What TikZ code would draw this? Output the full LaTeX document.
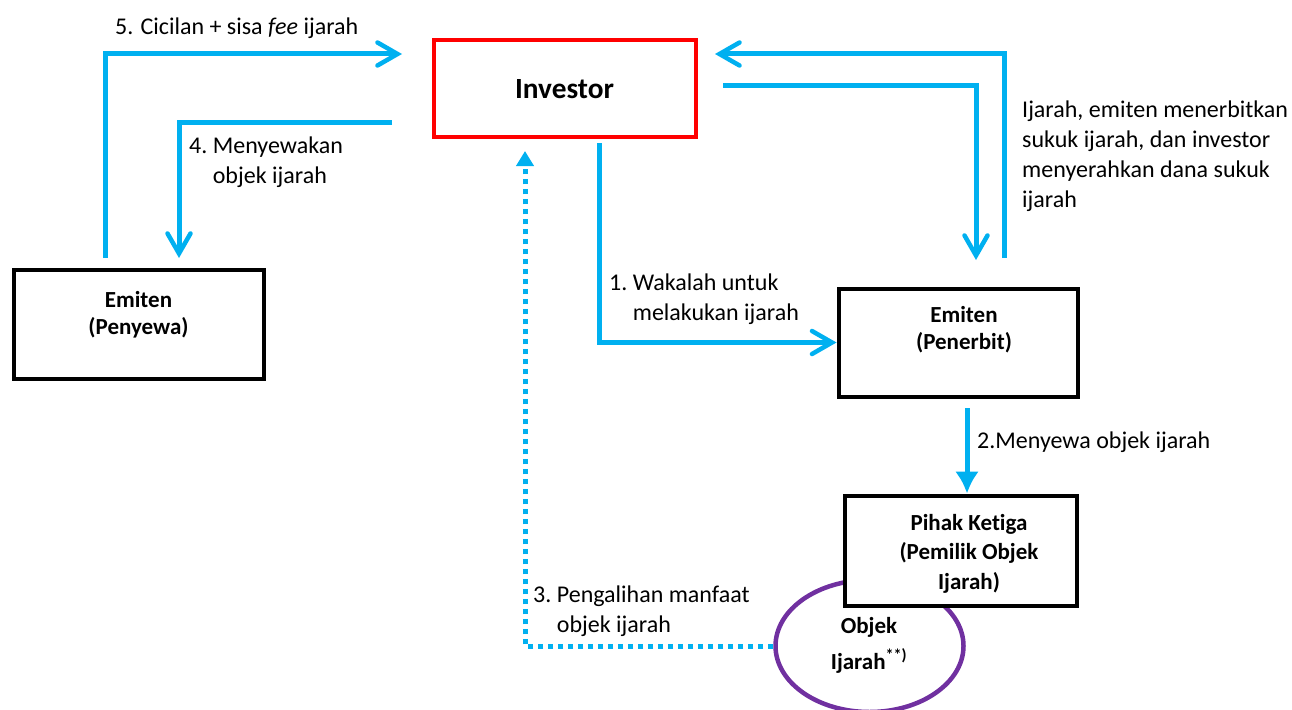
\documentclass[tikz,border=0pt]{standalone}
\usepackage{fontspec}
\setmainfont{Carlito}[Ligatures={NoCommon}]
\usetikzlibrary{arrows.meta,shapes.geometric}
\definecolor{flow}{HTML}{00B0F0}
\definecolor{invred}{HTML}{FF0000}
\definecolor{objpurple}{HTML}{7030A0}
\newcommand{\numitem}[3]{\begin{tabular}[t]{@{}l@{\ }l@{}}#1 & #2\\ & #3\end{tabular}}
\begin{document}
\begin{tikzpicture}[x=1pt,y=-1pt,
  box/.style={draw=black, line width=4pt, fill=white, inner sep=0pt},
  boxtext/.style={font=\fontsize{23}{27}\selectfont\bfseries, inner sep=0pt, anchor=base},
  lbl/.style={font=\fontsize{24}{30}\selectfont, inner sep=0pt, anchor=base west},
  flowline/.style={draw=flow, line width=5pt},
  openhead/.style={-{Straight Barb[length=20pt,width=23pt,line width=4.5pt,line cap=round]}},
  solidhead/.style={-{Latex[length=22pt,width=24pt]}},
  dotflow/.style={draw=flow, line width=5pt, dash pattern=on 5pt off 5pt, -{Triangle[length=15pt,width=17pt]}}]
\useasboundingbox (0,0) rectangle (1292,709);

% object of the lease, partly covered by the owner's box
\node[ellipse, draw=objpurple, line width=4.5pt, minimum width=188pt, minimum height=132pt, inner sep=0pt] (objek) at (869.5,646) {};
\node[boxtext] (objektext) at (869,633) {\begin{tabular}[t]{@{}c@{}}Objek\\[7pt]Ijarah\textsuperscript{**)}\end{tabular}};

% boxes
\node[box, draw=invred, minimum width=262pt, minimum height=96pt] (investor) at (564.5,88.5) {};
\node[font=\fontsize{29.3}{30}\selectfont\bfseries, inner sep=0pt, anchor=base] (investortext) at (564.5,98) {Investor};

\node[box, minimum width=250pt, minimum height=109pt] (penyewa) at (138.5,324) {};
\node[boxtext] (penyewatext) at (138.5,307) {\begin{tabular}[t]{@{}c@{}}Emiten\\(Penyewa)\end{tabular}};

\node[box, minimum width=239pt, minimum height=108pt] (penerbit) at (958,342.5) {};
\node[boxtext] (penerbittext) at (964,322) {\begin{tabular}[t]{@{}c@{}}Emiten\\(Penerbit)\end{tabular}};

\node[box, minimum width=232pt, minimum height=110pt] (pihak) at (960.5,550.5) {};
\node[boxtext] (pihaktext) at (969,530) {\begin{tabular}[t]{@{}c@{}}Pihak Ketiga\\[2pt](Pemilik Objek\\[3pt]Ijarah)\end{tabular}};

% free ends of the connectors
\coordinate (s5) at (105,258);
\coordinate (t5) at (402,54);
\coordinate (s4) at (392,122);
\coordinate (t4) at (179,258);
\coordinate (s6) at (1004,258);
\coordinate (t6) at (715,54);
\coordinate (s7) at (723,85);
\coordinate (t7) at (976,260);
\coordinate (s1) at (599,143);
\coordinate (s2) at (967,408);
\coordinate (t3) at (525,151);

% connectors
\draw[flowline, openhead] (s5) |- (t5);
\draw[flowline, openhead] (s4) -| (t4);
\draw[flowline, openhead] (s6) |- (t6);
\draw[flowline, openhead] (s7) -| (t7);
\draw[flowline, openhead] (s1) |- (penerbit.west);
\draw[flowline, solidhead] (s2) -- (s2 |- pihak.north);
\draw[dotflow] (objek.west) -| (t3);

% connector labels
\node[lbl] (l5) at (115,35) {5. Cicilan + sisa \textit{fee} ijarah};
\node[lbl] (l4) at (189,153) {\numitem{4.}{Menyewakan}{objek ijarah}};
\node[lbl] (l6) at (1022,117) {\begin{tabular}[t]{@{}l@{}}Ijarah, emiten menerbitkan\\sukuk ijarah, dan investor\\menyerahkan dana sukuk\\ijarah\end{tabular}};
\node[lbl] (l1) at (609,290) {\numitem{1.}{Wakalah untuk}{melakukan ijarah}};
\node[lbl] (l2) at (977,448) {2.Menyewa objek ijarah};
\node[lbl] (l3) at (533,602) {\numitem{3.}{Pengalihan manfaat}{objek ijarah}};
\end{tikzpicture}
\end{document}
